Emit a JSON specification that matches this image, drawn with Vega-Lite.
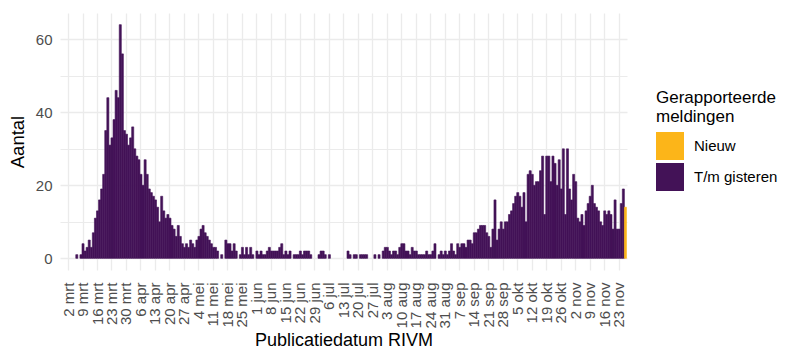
{
  "$schema": "https://vega.github.io/schema/vega-lite/v6.json",
  "width": 567,
  "height": 257,
  "autosize": {"type": "none"},
  "padding": {"left": 60, "top": 13, "right": 158, "bottom": 79},
  "background": "white",
  "config": {
    "view": {"stroke": null},
    "font": "Liberation Sans",
    "axis": {"labelFont": "Liberation Sans", "titleFont": "Liberation Sans"},
    "legend": {"labelFont": "Liberation Sans", "titleFont": "Liberation Sans"}
  },
  "data": {
    "values": [
      {"d":"2020-03-06","n":1,"m":"T/m gisteren"},{"d":"2020-03-08","n":1,"m":"T/m gisteren"},{"d":"2020-03-09","n":4,"m":"T/m gisteren"},{"d":"2020-03-10","n":2,"m":"T/m gisteren"},{"d":"2020-03-11","n":3,"m":"T/m gisteren"},{"d":"2020-03-12","n":5,"m":"T/m gisteren"},{"d":"2020-03-13","n":3,"m":"T/m gisteren"},{"d":"2020-03-14","n":7,"m":"T/m gisteren"},{"d":"2020-03-15","n":11,"m":"T/m gisteren"},{"d":"2020-03-16","n":13,"m":"T/m gisteren"},{"d":"2020-03-17","n":16,"m":"T/m gisteren"},{"d":"2020-03-18","n":19,"m":"T/m gisteren"},{"d":"2020-03-19","n":23,"m":"T/m gisteren"},{"d":"2020-03-20","n":35,"m":"T/m gisteren"},{"d":"2020-03-21","n":44,"m":"T/m gisteren"},{"d":"2020-03-22","n":31,"m":"T/m gisteren"},{"d":"2020-03-23","n":33,"m":"T/m gisteren"},{"d":"2020-03-24","n":38,"m":"T/m gisteren"},{"d":"2020-03-25","n":46,"m":"T/m gisteren"},{"d":"2020-03-26","n":44,"m":"T/m gisteren"},{"d":"2020-03-27","n":64,"m":"T/m gisteren"},{"d":"2020-03-28","n":56,"m":"T/m gisteren"},{"d":"2020-03-29","n":35,"m":"T/m gisteren"},{"d":"2020-03-30","n":34,"m":"T/m gisteren"},{"d":"2020-03-31","n":31,"m":"T/m gisteren"},
      {"d":"2020-04-01","n":33,"m":"T/m gisteren"},{"d":"2020-04-02","n":36,"m":"T/m gisteren"},{"d":"2020-04-03","n":30,"m":"T/m gisteren"},{"d":"2020-04-04","n":28,"m":"T/m gisteren"},{"d":"2020-04-05","n":27,"m":"T/m gisteren"},{"d":"2020-04-06","n":23,"m":"T/m gisteren"},{"d":"2020-04-07","n":20,"m":"T/m gisteren"},{"d":"2020-04-08","n":27,"m":"T/m gisteren"},{"d":"2020-04-09","n":23,"m":"T/m gisteren"},{"d":"2020-04-10","n":19,"m":"T/m gisteren"},{"d":"2020-04-11","n":18,"m":"T/m gisteren"},{"d":"2020-04-12","n":17,"m":"T/m gisteren"},{"d":"2020-04-13","n":16,"m":"T/m gisteren"},{"d":"2020-04-14","n":14,"m":"T/m gisteren"},{"d":"2020-04-15","n":10,"m":"T/m gisteren"},{"d":"2020-04-16","n":17,"m":"T/m gisteren"},{"d":"2020-04-17","n":13,"m":"T/m gisteren"},{"d":"2020-04-18","n":11,"m":"T/m gisteren"},{"d":"2020-04-19","n":12,"m":"T/m gisteren"},{"d":"2020-04-20","n":11,"m":"T/m gisteren"},{"d":"2020-04-21","n":9,"m":"T/m gisteren"},{"d":"2020-04-22","n":8,"m":"T/m gisteren"},{"d":"2020-04-23","n":6,"m":"T/m gisteren"},{"d":"2020-04-24","n":9,"m":"T/m gisteren"},{"d":"2020-04-25","n":6,"m":"T/m gisteren"},{"d":"2020-04-26","n":4,"m":"T/m gisteren"},{"d":"2020-04-27","n":3,"m":"T/m gisteren"},{"d":"2020-04-28","n":4,"m":"T/m gisteren"},{"d":"2020-04-29","n":3,"m":"T/m gisteren"},{"d":"2020-04-30","n":5,"m":"T/m gisteren"},
      {"d":"2020-05-01","n":4,"m":"T/m gisteren"},{"d":"2020-05-02","n":3,"m":"T/m gisteren"},{"d":"2020-05-03","n":5,"m":"T/m gisteren"},{"d":"2020-05-04","n":6,"m":"T/m gisteren"},{"d":"2020-05-05","n":8,"m":"T/m gisteren"},{"d":"2020-05-06","n":9,"m":"T/m gisteren"},{"d":"2020-05-07","n":7,"m":"T/m gisteren"},{"d":"2020-05-08","n":6,"m":"T/m gisteren"},{"d":"2020-05-09","n":5,"m":"T/m gisteren"},{"d":"2020-05-10","n":4,"m":"T/m gisteren"},{"d":"2020-05-11","n":3,"m":"T/m gisteren"},{"d":"2020-05-12","n":3,"m":"T/m gisteren"},{"d":"2020-05-13","n":2,"m":"T/m gisteren"},{"d":"2020-05-15","n":1,"m":"T/m gisteren"},{"d":"2020-05-17","n":5,"m":"T/m gisteren"},{"d":"2020-05-18","n":4,"m":"T/m gisteren"},{"d":"2020-05-19","n":4,"m":"T/m gisteren"},{"d":"2020-05-20","n":2,"m":"T/m gisteren"},{"d":"2020-05-21","n":4,"m":"T/m gisteren"},{"d":"2020-05-22","n":2,"m":"T/m gisteren"},{"d":"2020-05-24","n":1,"m":"T/m gisteren"},{"d":"2020-05-25","n":3,"m":"T/m gisteren"},{"d":"2020-05-26","n":1,"m":"T/m gisteren"},{"d":"2020-05-27","n":3,"m":"T/m gisteren"},{"d":"2020-05-28","n":1,"m":"T/m gisteren"},{"d":"2020-05-29","n":3,"m":"T/m gisteren"},{"d":"2020-05-30","n":1,"m":"T/m gisteren"},
      {"d":"2020-06-01","n":2,"m":"T/m gisteren"},{"d":"2020-06-02","n":1,"m":"T/m gisteren"},{"d":"2020-06-03","n":2,"m":"T/m gisteren"},{"d":"2020-06-04","n":1,"m":"T/m gisteren"},{"d":"2020-06-05","n":1,"m":"T/m gisteren"},{"d":"2020-06-06","n":2,"m":"T/m gisteren"},{"d":"2020-06-07","n":3,"m":"T/m gisteren"},{"d":"2020-06-08","n":2,"m":"T/m gisteren"},{"d":"2020-06-09","n":2,"m":"T/m gisteren"},{"d":"2020-06-10","n":2,"m":"T/m gisteren"},{"d":"2020-06-11","n":2,"m":"T/m gisteren"},{"d":"2020-06-12","n":3,"m":"T/m gisteren"},{"d":"2020-06-13","n":4,"m":"T/m gisteren"},{"d":"2020-06-14","n":1,"m":"T/m gisteren"},{"d":"2020-06-15","n":2,"m":"T/m gisteren"},{"d":"2020-06-16","n":1,"m":"T/m gisteren"},{"d":"2020-06-17","n":2,"m":"T/m gisteren"},{"d":"2020-06-19","n":1,"m":"T/m gisteren"},{"d":"2020-06-20","n":1,"m":"T/m gisteren"},{"d":"2020-06-21","n":1,"m":"T/m gisteren"},{"d":"2020-06-22","n":2,"m":"T/m gisteren"},{"d":"2020-06-23","n":1,"m":"T/m gisteren"},{"d":"2020-06-24","n":2,"m":"T/m gisteren"},{"d":"2020-06-25","n":2,"m":"T/m gisteren"},{"d":"2020-06-26","n":2,"m":"T/m gisteren"},{"d":"2020-06-27","n":1,"m":"T/m gisteren"},
      {"d":"2020-07-01","n":1,"m":"T/m gisteren"},{"d":"2020-07-02","n":2,"m":"T/m gisteren"},{"d":"2020-07-03","n":2,"m":"T/m gisteren"},{"d":"2020-07-04","n":1,"m":"T/m gisteren"},{"d":"2020-07-06","n":1,"m":"T/m gisteren"},{"d":"2020-07-15","n":2,"m":"T/m gisteren"},{"d":"2020-07-16","n":1,"m":"T/m gisteren"},{"d":"2020-07-18","n":1,"m":"T/m gisteren"},{"d":"2020-07-19","n":1,"m":"T/m gisteren"},{"d":"2020-07-21","n":1,"m":"T/m gisteren"},{"d":"2020-07-22","n":1,"m":"T/m gisteren"},{"d":"2020-07-23","n":1,"m":"T/m gisteren"},{"d":"2020-07-24","n":1,"m":"T/m gisteren"},{"d":"2020-07-28","n":1,"m":"T/m gisteren"},{"d":"2020-07-30","n":1,"m":"T/m gisteren"},
      {"d":"2020-08-01","n":2,"m":"T/m gisteren"},{"d":"2020-08-02","n":3,"m":"T/m gisteren"},{"d":"2020-08-03","n":3,"m":"T/m gisteren"},{"d":"2020-08-04","n":2,"m":"T/m gisteren"},{"d":"2020-08-05","n":1,"m":"T/m gisteren"},{"d":"2020-08-06","n":2,"m":"T/m gisteren"},{"d":"2020-08-07","n":2,"m":"T/m gisteren"},{"d":"2020-08-08","n":1,"m":"T/m gisteren"},{"d":"2020-08-09","n":3,"m":"T/m gisteren"},{"d":"2020-08-10","n":4,"m":"T/m gisteren"},{"d":"2020-08-11","n":4,"m":"T/m gisteren"},{"d":"2020-08-12","n":2,"m":"T/m gisteren"},{"d":"2020-08-13","n":2,"m":"T/m gisteren"},{"d":"2020-08-14","n":1,"m":"T/m gisteren"},{"d":"2020-08-15","n":3,"m":"T/m gisteren"},{"d":"2020-08-16","n":2,"m":"T/m gisteren"},{"d":"2020-08-17","n":2,"m":"T/m gisteren"},{"d":"2020-08-18","n":1,"m":"T/m gisteren"},{"d":"2020-08-19","n":1,"m":"T/m gisteren"},{"d":"2020-08-20","n":1,"m":"T/m gisteren"},{"d":"2020-08-21","n":1,"m":"T/m gisteren"},{"d":"2020-08-22","n":2,"m":"T/m gisteren"},{"d":"2020-08-23","n":1,"m":"T/m gisteren"},{"d":"2020-08-24","n":1,"m":"T/m gisteren"},{"d":"2020-08-25","n":2,"m":"T/m gisteren"},{"d":"2020-08-26","n":4,"m":"T/m gisteren"},{"d":"2020-08-28","n":1,"m":"T/m gisteren"},{"d":"2020-08-29","n":2,"m":"T/m gisteren"},{"d":"2020-08-30","n":1,"m":"T/m gisteren"},{"d":"2020-08-31","n":2,"m":"T/m gisteren"},
      {"d":"2020-09-01","n":1,"m":"T/m gisteren"},{"d":"2020-09-02","n":2,"m":"T/m gisteren"},{"d":"2020-09-03","n":4,"m":"T/m gisteren"},{"d":"2020-09-04","n":2,"m":"T/m gisteren"},{"d":"2020-09-05","n":1,"m":"T/m gisteren"},{"d":"2020-09-06","n":4,"m":"T/m gisteren"},{"d":"2020-09-07","n":3,"m":"T/m gisteren"},{"d":"2020-09-08","n":4,"m":"T/m gisteren"},{"d":"2020-09-09","n":4,"m":"T/m gisteren"},{"d":"2020-09-10","n":3,"m":"T/m gisteren"},{"d":"2020-09-11","n":5,"m":"T/m gisteren"},{"d":"2020-09-12","n":5,"m":"T/m gisteren"},{"d":"2020-09-13","n":4,"m":"T/m gisteren"},{"d":"2020-09-14","n":7,"m":"T/m gisteren"},{"d":"2020-09-15","n":7,"m":"T/m gisteren"},{"d":"2020-09-16","n":8,"m":"T/m gisteren"},{"d":"2020-09-17","n":9,"m":"T/m gisteren"},{"d":"2020-09-18","n":9,"m":"T/m gisteren"},{"d":"2020-09-19","n":9,"m":"T/m gisteren"},{"d":"2020-09-20","n":7,"m":"T/m gisteren"},{"d":"2020-09-21","n":6,"m":"T/m gisteren"},{"d":"2020-09-22","n":3,"m":"T/m gisteren"},{"d":"2020-09-23","n":8,"m":"T/m gisteren"},{"d":"2020-09-24","n":16,"m":"T/m gisteren"},{"d":"2020-09-25","n":5,"m":"T/m gisteren"},{"d":"2020-09-26","n":8,"m":"T/m gisteren"},{"d":"2020-09-27","n":10,"m":"T/m gisteren"},{"d":"2020-09-28","n":8,"m":"T/m gisteren"},{"d":"2020-09-29","n":10,"m":"T/m gisteren"},{"d":"2020-09-30","n":10,"m":"T/m gisteren"},
      {"d":"2020-10-01","n":12,"m":"T/m gisteren"},{"d":"2020-10-02","n":13,"m":"T/m gisteren"},{"d":"2020-10-03","n":15,"m":"T/m gisteren"},{"d":"2020-10-04","n":17,"m":"T/m gisteren"},{"d":"2020-10-05","n":18,"m":"T/m gisteren"},{"d":"2020-10-06","n":17,"m":"T/m gisteren"},{"d":"2020-10-07","n":14,"m":"T/m gisteren"},{"d":"2020-10-08","n":18,"m":"T/m gisteren"},{"d":"2020-10-09","n":10,"m":"T/m gisteren"},{"d":"2020-10-10","n":23,"m":"T/m gisteren"},{"d":"2020-10-11","n":24,"m":"T/m gisteren"},{"d":"2020-10-12","n":23,"m":"T/m gisteren"},{"d":"2020-10-13","n":20,"m":"T/m gisteren"},{"d":"2020-10-14","n":21,"m":"T/m gisteren"},{"d":"2020-10-15","n":21,"m":"T/m gisteren"},{"d":"2020-10-16","n":24,"m":"T/m gisteren"},{"d":"2020-10-17","n":28,"m":"T/m gisteren"},{"d":"2020-10-18","n":12,"m":"T/m gisteren"},{"d":"2020-10-19","n":28,"m":"T/m gisteren"},{"d":"2020-10-20","n":28,"m":"T/m gisteren"},{"d":"2020-10-21","n":21,"m":"T/m gisteren"},{"d":"2020-10-22","n":28,"m":"T/m gisteren"},{"d":"2020-10-23","n":26,"m":"T/m gisteren"},{"d":"2020-10-24","n":20,"m":"T/m gisteren"},{"d":"2020-10-25","n":27,"m":"T/m gisteren"},{"d":"2020-10-26","n":19,"m":"T/m gisteren"},{"d":"2020-10-27","n":30,"m":"T/m gisteren"},{"d":"2020-10-28","n":12,"m":"T/m gisteren"},{"d":"2020-10-29","n":30,"m":"T/m gisteren"},{"d":"2020-10-30","n":19,"m":"T/m gisteren"},{"d":"2020-10-31","n":16,"m":"T/m gisteren"},
      {"d":"2020-11-01","n":23,"m":"T/m gisteren"},{"d":"2020-11-02","n":21,"m":"T/m gisteren"},{"d":"2020-11-03","n":11,"m":"T/m gisteren"},{"d":"2020-11-04","n":10,"m":"T/m gisteren"},{"d":"2020-11-05","n":12,"m":"T/m gisteren"},{"d":"2020-11-06","n":9,"m":"T/m gisteren"},{"d":"2020-11-07","n":13,"m":"T/m gisteren"},{"d":"2020-11-08","n":15,"m":"T/m gisteren"},{"d":"2020-11-09","n":17,"m":"T/m gisteren"},{"d":"2020-11-10","n":20,"m":"T/m gisteren"},{"d":"2020-11-11","n":15,"m":"T/m gisteren"},{"d":"2020-11-12","n":14,"m":"T/m gisteren"},{"d":"2020-11-13","n":13,"m":"T/m gisteren"},{"d":"2020-11-14","n":10,"m":"T/m gisteren"},{"d":"2020-11-15","n":9,"m":"T/m gisteren"},{"d":"2020-11-16","n":13,"m":"T/m gisteren"},{"d":"2020-11-17","n":12,"m":"T/m gisteren"},{"d":"2020-11-18","n":13,"m":"T/m gisteren"},{"d":"2020-11-19","n":12,"m":"T/m gisteren"},{"d":"2020-11-20","n":8,"m":"T/m gisteren"},{"d":"2020-11-21","n":16,"m":"T/m gisteren"},{"d":"2020-11-22","n":8,"m":"T/m gisteren"},{"d":"2020-11-23","n":8,"m":"T/m gisteren"},{"d":"2020-11-24","n":15,"m":"T/m gisteren"},{"d":"2020-11-25","n":19,"m":"T/m gisteren"},{"d":"2020-11-26","n":14,"m":"Nieuw"}
    ]
  },
  "mark": {"type": "bar", "strokeWidth": 0.6, "binSpacing": 0},
  "encoding": {
    "x": {
      "field": "d",
      "type": "temporal",
      "timeUnit": "utcyearmonthdate",
      "title": "Publicatiedatum RIVM",
      "scale": {
        "type": "utc",
        "domain": [
          {"year": 2020, "month": 2, "date": 27, "hours": 15, "utc": true},
          {"year": 2020, "month": 11, "date": 27, "hours": 12, "utc": true}
        ]
      },
      "axis": {
        "values": [
          {"year":2020,"month":3,"date":2,"hours":12,"utc":true},{"year":2020,"month":3,"date":9,"hours":12,"utc":true},{"year":2020,"month":3,"date":16,"hours":12,"utc":true},{"year":2020,"month":3,"date":23,"hours":12,"utc":true},{"year":2020,"month":3,"date":30,"hours":12,"utc":true},
          {"year":2020,"month":4,"date":6,"hours":12,"utc":true},{"year":2020,"month":4,"date":13,"hours":12,"utc":true},{"year":2020,"month":4,"date":20,"hours":12,"utc":true},{"year":2020,"month":4,"date":27,"hours":12,"utc":true},
          {"year":2020,"month":5,"date":4,"hours":12,"utc":true},{"year":2020,"month":5,"date":11,"hours":12,"utc":true},{"year":2020,"month":5,"date":18,"hours":12,"utc":true},{"year":2020,"month":5,"date":25,"hours":12,"utc":true},
          {"year":2020,"month":6,"date":1,"hours":12,"utc":true},{"year":2020,"month":6,"date":8,"hours":12,"utc":true},{"year":2020,"month":6,"date":15,"hours":12,"utc":true},{"year":2020,"month":6,"date":22,"hours":12,"utc":true},{"year":2020,"month":6,"date":29,"hours":12,"utc":true},
          {"year":2020,"month":7,"date":6,"hours":12,"utc":true},{"year":2020,"month":7,"date":13,"hours":12,"utc":true},{"year":2020,"month":7,"date":20,"hours":12,"utc":true},{"year":2020,"month":7,"date":27,"hours":12,"utc":true},
          {"year":2020,"month":8,"date":3,"hours":12,"utc":true},{"year":2020,"month":8,"date":10,"hours":12,"utc":true},{"year":2020,"month":8,"date":17,"hours":12,"utc":true},{"year":2020,"month":8,"date":24,"hours":12,"utc":true},{"year":2020,"month":8,"date":31,"hours":12,"utc":true},
          {"year":2020,"month":9,"date":7,"hours":12,"utc":true},{"year":2020,"month":9,"date":14,"hours":12,"utc":true},{"year":2020,"month":9,"date":21,"hours":12,"utc":true},{"year":2020,"month":9,"date":28,"hours":12,"utc":true},
          {"year":2020,"month":10,"date":5,"hours":12,"utc":true},{"year":2020,"month":10,"date":12,"hours":12,"utc":true},{"year":2020,"month":10,"date":19,"hours":12,"utc":true},{"year":2020,"month":10,"date":26,"hours":12,"utc":true},
          {"year":2020,"month":11,"date":2,"hours":12,"utc":true},{"year":2020,"month":11,"date":9,"hours":12,"utc":true},{"year":2020,"month":11,"date":16,"hours":12,"utc":true},{"year":2020,"month":11,"date":23,"hours":12,"utc":true}
        ],
        "labelExpr": "utcdate(datum.value) + ' ' + ['jan','feb','mrt','apr','mei','jun','jul','aug','sep','okt','nov','dec'][utcmonth(datum.value)]",
        "labelAngle": -90,
        "labelAlign": "right",
        "labelBaseline": "middle",
        "labelOverlap": false,
        "labelFlush": false,
        "labelFontSize": 15,
        "labelColor": "#4D4D4D",
        "labelPadding": 12,
        "ticks": false,
        "domain": false,
        "grid": true,
        "gridColor": "#EBEBEB",
        "gridWidth": 1.3,
        "titleFontSize": 18,
        "titleFontWeight": "normal",
        "titleColor": "#000000",
        "titlePadding": 4
      }
    },
    "y": {
      "field": "n",
      "type": "quantitative",
      "stack": "zero",
      "title": "Aantal",
      "scale": {"domain": [-3.2, 67.2], "nice": false, "zero": false},
      "axis": {
        "values": [0, 10, 20, 30, 40, 50, 60],
        "labelExpr": "datum.value % 20 === 0 ? datum.label : ''",
        "labelFontSize": 15,
        "labelColor": "#4D4D4D",
        "labelPadding": 8,
        "ticks": false,
        "domain": false,
        "grid": true,
        "gridColor": "#EBEBEB",
        "gridWidth": {"condition": {"test": "datum.value % 20 === 0", "value": 1.4}, "value": 1.0},
        "titleFontSize": 18.5,
        "titleFontWeight": "normal",
        "titleColor": "#000000",
        "titlePadding": 8
      }
    },
    "stroke": {
      "field": "m",
      "type": "nominal",
      "scale": {"domain": ["Nieuw", "T/m gisteren"], "range": ["#FCB519", "#431257"]},
      "legend": null
    },
    "color": {
      "field": "m",
      "type": "nominal",
      "title": ["Gerapporteerde", "meldingen"],
      "scale": {"domain": ["Nieuw", "T/m gisteren"], "range": ["#FCB519", "#431257"]},
      "legend": {
        "orient": "none",
        "legendX": 596,
        "legendY": 77,
        "padding": 0,
        "symbolType": "square",
        "symbolSize": 784,
        "symbolStrokeWidth": 0,
        "symbolOpacity": 1,
        "labelFontSize": 15,
        "labelColor": "#000000",
        "labelOffset": 10,
        "labelLimit": 250,
        "rowPadding": 3,
        "titleFontSize": 17,
        "titleLimit": 200,
        "titleFontWeight": "normal",
        "titleColor": "#000000",
        "titleLineHeight": 19,
        "titlePadding": 6
      }
    }
  }
}
